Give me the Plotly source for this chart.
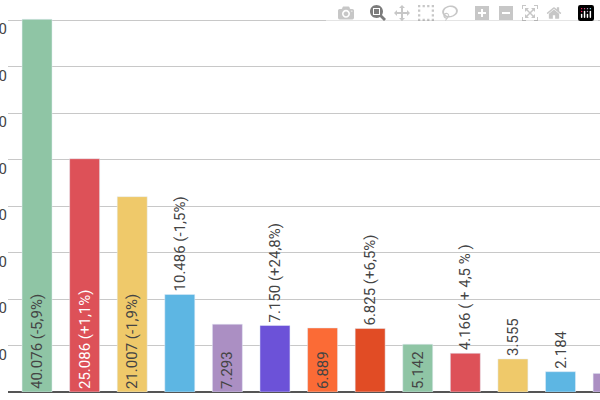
import plotly.graph_objects as go

values = [40076, 25086, 21007, 10486, 7293, 7150, 6889, 6825, 5142, 4166, 3555, 2184, 2000]
labels = ["40.076 (-5,9%)", "25.086 (+1,1%)", "21.007 (-1,9%)", "10.486 (-1,5%)", "7.293",
          "7.150 (+24,8%)", "6.889", "6.825 (+6,5%)", "5.142", "4.166 ( + 4,5 % )",
          "3.555", "2.184", ""]
colors = ["#8fc5a5", "#dd5158", "#efc96a", "#5db6e3", "#ab8fc3", "#6c52d8", "#fb6b36",
          "#e14c25", "#8fc5a5", "#dd5158", "#efc96a", "#5db6e3", "#ab8fc3"]
positions = ["inside", "inside", "inside", "outside", "inside", "outside", "inside",
             "outside", "inside", "outside", "outside", "outside", "inside"]
textcolors = ["#444", "white", "#444", "#444", "#444", "#444", "#444", "#444", "#444",
              "#444", "#444", "#444", "#444"]

fig = go.Figure(go.Bar(
    x=list(range(len(values))), y=values, width=0.63,
    marker=dict(color=colors),
    text=labels, textposition=positions, textangle=-90,
    insidetextanchor="start",
    textfont=dict(family="Roboto", size=15, color=textcolors),
    cliponaxis=False,
))
fig.update_layout(
    width=600, height=400, margin=dict(l=8, r=0, t=0, b=8),
    plot_bgcolor="white", paper_bgcolor="white", showlegend=False,
    uniformtext=dict(mode="show", minsize=15),
    xaxis=dict(range=[-0.61, 11.83], showticklabels=False, showgrid=False,
               zeroline=False, showline=False),
    yaxis=dict(range=[0, 42150], dtick=5000, gridcolor="#c8c8c8", gridwidth=1,
               zeroline=True, zerolinecolor="#555", zerolinewidth=2,
               tickfont=dict(family="Roboto", size=15, color="#444"),
               automargin=False, ticklabelshift=9, tickformat="d"),
)
fig.write_html("out.html", post_script="document.body.style.margin='0';")
